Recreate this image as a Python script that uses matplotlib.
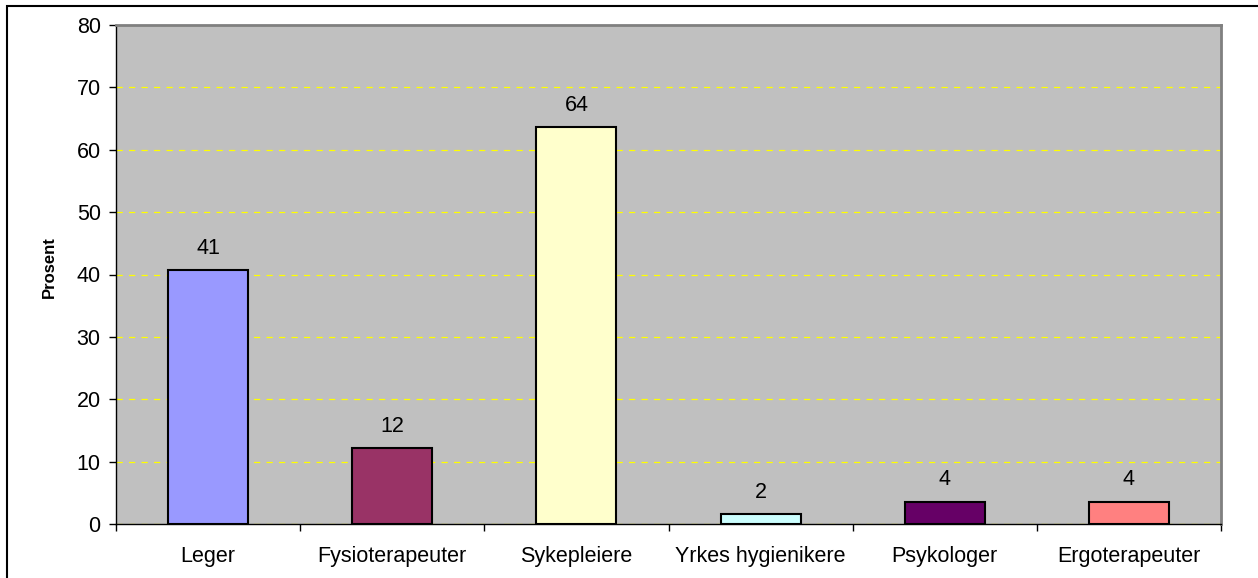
import matplotlib
matplotlib.use("Agg")
import matplotlib.pyplot as plt
from matplotlib.patches import Rectangle

categories = ["Leger", "Fysioterapeuter", "Sykepleiere", "Yrkes hygienikere", "Psykologer", "Ergoterapeuter"]
values = [40.7, 12.2, 63.6, 1.6, 3.6, 3.6]
bar_colors = ["#9999FF", "#993366", "#FFFFCC", "#CCFFFF", "#660066", "#FF8080"]
yticks = [0, 10, 20, 30, 40, 50, 60, 70, 80]

plt.rcParams['font.family'] = ['Liberation Sans', 'DejaVu Sans']

W, H = 1258, 578
fig = plt.figure(figsize=(W / 100, H / 100), dpi=100)
ax = fig.add_axes([116 / W, 1 - 524 / H, (1221 - 116) / W, (524 - 25) / H])

ax.set_facecolor("#C0C0C0")
x = list(range(len(categories)))
ax.bar(x, values, width=0.435, color=bar_colors, edgecolor="black", linewidth=1.5, zorder=3)
for xi, v in zip(x, values):
    ax.annotate(f"{v:.0f}", (xi, v), xytext=(0, 8), textcoords="offset points",
                ha="center", va="bottom", fontsize=15.5, zorder=4)

ax.set_xlim(-0.5, len(categories) - 0.5)
ax.set_ylim(0, 80)
ax.set_yticks(yticks)
ax.tick_params(axis="y", labelsize=15.5, length=5, width=1, direction="out", pad=6)
ax.set_xticks([i - 0.5 for i in range(len(categories) + 1)])
ax.set_xticklabels([])
ax.set_xticks(x, minor=True)
ax.set_xticklabels(categories, minor=True)
ax.tick_params(axis="x", which="major", length=5, width=1, direction="out")
ax.tick_params(axis="x", which="minor", length=0, labelsize=15.5, pad=16)

ax.yaxis.grid(True, color="#FFFF00", linestyle=(0, (5, 5)), linewidth=0.9, zorder=1)
ax.set_axisbelow(True)

for s in ["top", "right"]:
    ax.spines[s].set_color("#808080")
    ax.spines[s].set_linewidth(2)
for s in ["left", "bottom"]:
    ax.spines[s].set_color("black")
    ax.spines[s].set_linewidth(1)

ax.set_ylabel("Prosent", fontsize=12, fontweight="bold", labelpad=14)
ax.yaxis.label.set_y(0.515)

fig.patches.append(Rectangle((7 / W, -0.01), 1.02, 1 - 6 / H + 0.01, transform=fig.transFigure,
                             fill=False, edgecolor="black", linewidth=1.5))

fig.savefig("out.png", dpi=100)
